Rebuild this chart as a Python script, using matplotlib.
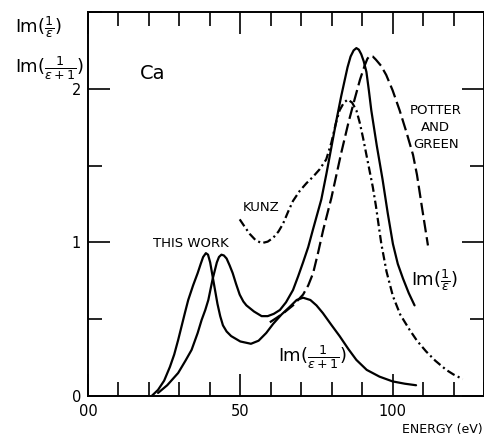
import matplotlib
matplotlib.use("Agg")
import matplotlib.pyplot as plt
import matplotlib.ticker as ticker

plt.rcParams["font.family"] = ["DejaVu Sans"]
plt.rcParams["mathtext.fontset"] = "dejavusans"
plt.rcParams["lines.scale_dashes"] = False

# ── Data ───────────────────────────────────────────────────────────────────────
# Im(1/eps), this work (solid)
bulk_e = [23, 26, 29.6, 32, 34, 36, 37.3, 38.5, 39.5, 40.9, 42.3, 43, 43.8,
          44.6, 45.5, 46.5, 47.5, 48.6, 49.8, 51, 52, 54.5, 57, 59, 61, 63, 65,
          67.3, 69, 70.6, 72.3, 73.8, 75.2, 76.6, 78.3, 79.9, 81.5, 83.1, 84.2,
          85.2, 86.2, 87.2, 88.1, 88.9, 89.7, 90.5, 91.4, 92.2, 93, 94.8, 96.7,
          98.4, 100.1, 101.7, 103.4, 105.3, 107.2]
bulk_v = [0.02, 0.07, 0.15, 0.23, 0.30, 0.41, 0.495, 0.56, 0.625, 0.76, 0.87,
          0.905, 0.92, 0.915, 0.895, 0.85, 0.80, 0.73, 0.66, 0.615, 0.59, 0.55,
          0.52, 0.52, 0.535, 0.56, 0.61, 0.69, 0.78, 0.87, 0.97, 1.08, 1.18,
          1.28, 1.45, 1.62, 1.79, 1.95, 2.05, 2.14, 2.21, 2.25, 2.265, 2.255,
          2.225, 2.18, 2.11, 1.99, 1.86, 1.63, 1.41, 1.19, 0.99, 0.86, 0.765,
          0.67, 0.59]

# Im(1/(eps+1)), this work (solid)
surf_e = [20.9, 23, 25, 26.9, 28.3, 29.6, 31.8, 32.9, 34.5, 36, 37, 37.8, 38.7,
          39.4, 40.1, 40.9, 41.7, 42.5, 43.4, 44.3, 45.5, 47, 50, 53.5, 56,
          58.5, 60.8, 63.5, 66.2, 68.5, 70.6, 73, 75, 77.1, 80, 82.6, 85.5, 88.1,
          91.5, 95.7, 100, 104, 107.7]
surf_v = [0.0, 0.04, 0.10, 0.19, 0.27, 0.365, 0.54, 0.625, 0.72, 0.80, 0.86,
          0.905, 0.93, 0.92, 0.87, 0.78, 0.69, 0.60, 0.52, 0.46, 0.42, 0.39,
          0.355, 0.34, 0.36, 0.41, 0.47, 0.53, 0.58, 0.625, 0.64, 0.625, 0.59,
          0.54, 0.46, 0.39, 0.305, 0.235, 0.17, 0.126, 0.095, 0.08, 0.07]

# Potter and Green (dashed)
potter_e = [59.7, 62, 64.5, 67.3, 70.6, 72.3, 73.9, 75.5, 77.2, 79.9, 83.1,
            85.5, 87.5, 89.3, 90.8, 91.7, 92.5, 93.5, 94.5, 96.2, 97.9, 100,
            102.3, 104.5, 106.7, 108, 109.7, 111.6]
potter_v = [0.48, 0.51, 0.545, 0.59, 0.66, 0.72, 0.80, 0.93, 1.08, 1.29, 1.58,
            1.78, 1.93, 2.06, 2.15, 2.195, 2.215, 2.21, 2.19, 2.15, 2.09, 1.99,
            1.86, 1.72, 1.57, 1.44, 1.22, 0.98]

# Kunz (dash-dot)
kunz_e = [49.8, 51.5, 53.1, 55, 57, 59, 60.8, 62.5, 64, 65.7, 67.3, 69.5, 71.7,
          74, 76, 78.2, 79.9, 81.3, 82.6, 84, 85.3, 86.7, 88.1, 89.2, 90.3, 91.4,
          92.5, 93.5, 94.5, 95.5, 96.3, 98, 100.1, 102.5, 105.6, 108, 111, 114,
          117.6, 120, 123]
kunz_v = [1.15, 1.10, 1.055, 1.015, 0.995, 1.005, 1.03, 1.07, 1.12, 1.20, 1.27,
          1.335, 1.385, 1.43, 1.475, 1.54, 1.65, 1.77, 1.86, 1.91, 1.93, 1.91,
          1.86, 1.78, 1.68, 1.57, 1.46, 1.36, 1.24, 1.10, 0.99, 0.81, 0.65,
          0.53, 0.43, 0.36, 0.29, 0.23, 0.17, 0.14, 0.11]

x_ticks = [0, 50, 100]
x_ticklabels = ["00", "50", "100"]
y_ticks = [0, 1, 2]
y_ticklabels = ["0", "1", "2"]

# ── Figure ─────────────────────────────────────────────────────────────────────
fig = plt.figure(figsize=(4.85, 4.37), dpi=100, facecolor="white")
ax = fig.add_axes([88 / 485, 1 - 396 / 437, (484 - 88) / 485, (396 - 12) / 437])

LW = 1.6
common = dict(color="black", lw=LW, solid_joinstyle="round",
              solid_capstyle="round", dash_joinstyle="round")
ax.plot(bulk_e, bulk_v, **common)
ax.plot(surf_e, surf_v, **common)
ax.plot(potter_e, potter_v, linestyle=(0, (9, 3.5)), **common)
ax.plot(kunz_e, kunz_v, linestyle=(0, (6, 2.5, 1.5, 2.5)), **common)

ax.set_xlim(0, 130)
ax.set_ylim(0, 2.5)
ax.set_xticks(x_ticks)
ax.set_xticklabels(x_ticklabels)
ax.set_yticks(y_ticks)
ax.set_yticklabels(y_ticklabels)
ax.xaxis.set_minor_locator(ticker.MultipleLocator(10))
ax.yaxis.set_minor_locator(ticker.MultipleLocator(0.5))
ax.tick_params(which="both", direction="in", top=True, right=True,
               width=1.2, colors="black")
ax.tick_params(which="major", length=16, labelsize=10.5, pad=5)
ax.tick_params(which="minor", length=10)
ax.tick_params(axis="x", which="major", pad=6)
for s in ax.spines.values():
    s.set_linewidth(1.4)

# ── Annotations ────────────────────────────────────────────────────────────────
ax.text(17, 2.10, "Ca", fontsize=14, va="center", ha="left")
ax.text(33.8, 0.99, "THIS WORK", fontsize=9.5, ha="center", va="center")
ax.text(56.9, 1.23, "KUNZ", fontsize=9.5, ha="center", va="center")
ax.text(114.1, 1.745, "POTTER\nAND\nGREEN", fontsize=9.5, ha="center",
        va="center", linespacing=1.4)
ax.text(113.9, 0.756, r"$\mathrm{Im}(\frac{1}{\varepsilon})$", fontsize=13,
        ha="center", va="center")
ax.text(73.6, 0.254, r"$\mathrm{Im}(\frac{1}{\varepsilon+1})$", fontsize=13,
        ha="center", va="center")

fig.text(15 / 485, 1 - 27 / 437, r"$\mathrm{Im}(\frac{1}{\varepsilon})$",
         fontsize=13, ha="left", va="center")
fig.text(15 / 485, 1 - 68 / 437, r"$\mathrm{Im}(\frac{1}{\varepsilon+1})$",
         fontsize=13, ha="left", va="center")
fig.text(483 / 485, 1 - 429 / 437, "ENERGY (eV)", fontsize=9,
         ha="right", va="center")

fig.savefig("out.png", dpi=100, facecolor="white")
